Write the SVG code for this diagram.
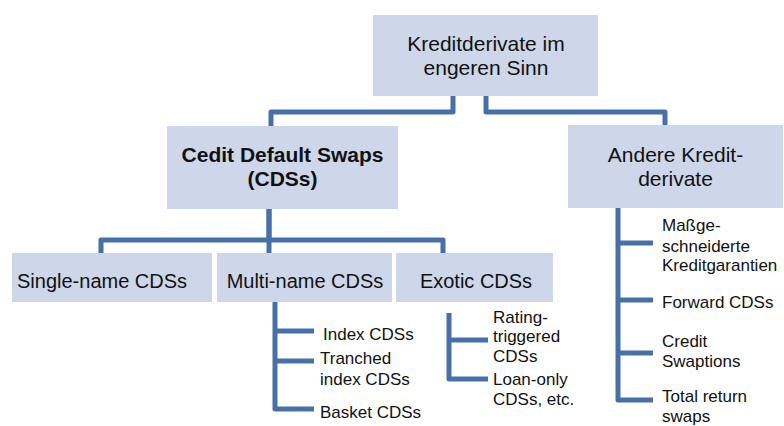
<svg xmlns="http://www.w3.org/2000/svg" width="784" height="426" viewBox="0 0 784 426">
<style>
.box{fill:#CDD7E9;stroke:none}
.t{font-family:"Liberation Sans",Arial,sans-serif;fill:#111}
.l1{font-size:21px}
.l2{font-size:20px}
.lf{font-size:17px}
.b{font-weight:bold}
.c{fill:none;stroke:#4770A8;stroke-width:5;stroke-linejoin:round}
</style>
<rect width="784" height="426" fill="#fff"/>
<g id="connectors">
<path class="c" d="M453,96 V112 H271 V126"/>
<path class="c" d="M486,96 V112 H665 V125"/>
<path class="c" d="M269,209 V240 H101 V253"/>
<path class="c" d="M269,209 V240 H443 V253"/>
<path class="c" d="M269,238 V253"/>
<path class="c" d="M275,302 V409 H314"/>
<path class="c" d="M275,331 H314"/>
<path class="c" d="M275,361 H314"/>
<path class="c" d="M449,313 V379 H488"/>
<path class="c" d="M449,340 H488"/>
<path class="c" d="M618,208 V400 H653"/>
<path class="c" d="M618,243 H653"/>
<path class="c" d="M618,300 H653"/>
<path class="c" d="M618,353 H653"/>
</g>
<g id="root">
<rect class="box" x="373" y="15" width="225" height="81"/>
<text class="t l1" x="486" y="51" text-anchor="middle">Kreditderivate im</text>
<text class="t l1" x="486" y="75" text-anchor="middle">engeren Sinn</text>
</g>
<g id="cds">
<rect class="box" x="167" y="126" width="231" height="83"/>
<text class="t l1 b" x="282.5" y="162" text-anchor="middle">Cedit Default Swaps</text>
<text class="t l1 b" x="282.5" y="186" text-anchor="middle">(CDSs)</text>
</g>
<g id="andere">
<rect class="box" x="568" y="125" width="215" height="83"/>
<text class="t l1" x="675.5" y="162" text-anchor="middle">Andere Kredit-</text>
<text class="t l1" x="675.5" y="186" text-anchor="middle">derivate</text>
</g>
<g id="single">
<rect class="box" x="12" y="253" width="200" height="49"/>
<text class="t l2" x="17" y="288">Single-name CDSs</text>
</g>
<g id="multi">
<rect class="box" x="217" y="253" width="175" height="49"/>
<text class="t l2" x="305" y="288" text-anchor="middle">Multi-name CDSs</text>
</g>
<g id="exotic">
<rect class="box" x="396" y="253" width="157" height="49"/>
<text class="t l2" x="476" y="288" text-anchor="middle">Exotic CDSs</text>
</g>
<g id="index">
<text class="t lf" x="323" y="340">Index CDSs</text>
</g>
<g id="tranched">
<text class="t lf" x="320" y="364">Tranched</text>
<text class="t lf" x="320" y="385">index CDSs</text>
</g>
<g id="basket">
<text class="t lf" x="320" y="418">Basket CDSs</text>
</g>
<g id="rating">
<text class="t lf" x="493" y="323">Rating-</text>
<text class="t lf" x="493" y="342">triggered</text>
<text class="t lf" x="493" y="362">CDSs</text>
</g>
<g id="loan">
<text class="t lf" x="493" y="385">Loan-only</text>
<text class="t lf" x="493" y="405">CDSs, etc.</text>
</g>
<g id="massge">
<text class="t lf" x="662" y="231">Maßge-</text>
<text class="t lf" x="662" y="252">schneiderte</text>
<text class="t lf" x="662" y="271">Kreditgarantien</text>
</g>
<g id="forward">
<text class="t lf" x="662" y="308">Forward CDSs</text>
</g>
<g id="swaptions">
<text class="t lf" x="662" y="347">Credit</text>
<text class="t lf" x="662" y="367">Swaptions</text>
</g>
<g id="trs">
<text class="t lf" x="662" y="401.5">Total return</text>
<text class="t lf" x="662" y="421.5">swaps</text>
</g>
</svg>
